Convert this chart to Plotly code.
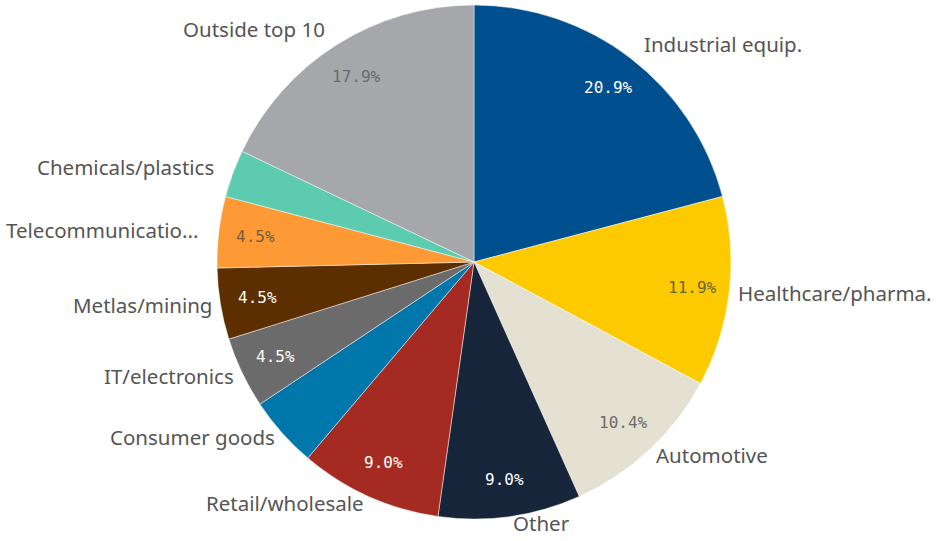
import math
import plotly.graph_objects as go

# Share of companies by industry (counts out of 67)
categories = [
    "Industrial equip.", "Healthcare/pharma.", "Automotive", "Other",
    "Retail/wholesale", "Consumer goods", "IT/electronics", "Metlas/mining",
    "Telecommunicatio...", "Chemicals/plastics", "Outside top 10",
]
counts = [14, 8, 7, 6, 6, 3, 3, 3, 3, 2, 12]
colors = [
    "#004f8e", "#fdca00", "#e5e1d2", "#16253a",
    "#a52b22", "#0077ab", "#6b6b6b", "#5c2e00",
    "#fd9a35", "#5ccbb0", "#a5a7aa",
]
# Which slices show their percentage, and in which colour
show_pct = [True, True, True, True, True, False, True, True, True, False, True]
pct_colors = [
    "#ffffff", "#6b6435", "#6b6b68", "#ffffff",
    "#ffffff", "#ffffff", "#ffffff", "#ffffff",
    "#7a5a3c", "#ffffff", "#6a6c70",
]

W, H = 942, 541
CX, CY, R = 474, 262, 257  # pie centre and radius in pixels
domain = dict(x=[(CX - R) / W, (CX + R) / W], y=[1 - (CY + R) / H, 1 - (CY - R) / H])

fig = go.Figure()

fig.add_trace(go.Pie(
    labels=categories,
    values=counts,
    sort=False,
    direction="clockwise",
    rotation=0,
    marker=dict(colors=colors, line=dict(color="rgba(255,255,255,0.6)", width=0.8)),
    textinfo="none",
    domain=domain,
    showlegend=False,
    hoverinfo="label+percent",
))

# Percentages inside the slices and category names just outside,
# both placed along each slice's mid-angle
total = sum(counts)
cum = 0
for name, v, show, col in zip(categories, counts, show_pct, pct_colors):
    mid = (cum + v / 2) / total * 2 * math.pi
    cum += v
    s, c = math.sin(mid), math.cos(mid)

    if show:
        d = 0.855 * R
        fig.add_annotation(
            x=(CX + d * s) / W, y=1 - (CY - d * c) / H,
            xref="paper", yref="paper",
            xanchor="center", yanchor="middle",
            text=f"{v / total * 100:.1f}%", showarrow=False,
            font=dict(family="DejaVu Sans Mono", size=16, color=col),
        )

    # labels in the lower half sit a little closer to the rim
    d = R + (18 if c > 0 else 7)
    fig.add_annotation(
        x=(CX + d * s) / W, y=1 - (CY - d * c) / H,
        xref="paper", yref="paper",
        text=name, showarrow=False,
        xanchor="left" if s > 0 else "right", yanchor="middle",
        font=dict(family="Noto Sans", size=20.5, color="#555555"),
    )

fig.update_layout(
    width=W,
    height=H,
    margin=dict(l=0, r=0, t=0, b=0),
    paper_bgcolor="white",
    plot_bgcolor="white",
)

fig.write_html("out.html")
